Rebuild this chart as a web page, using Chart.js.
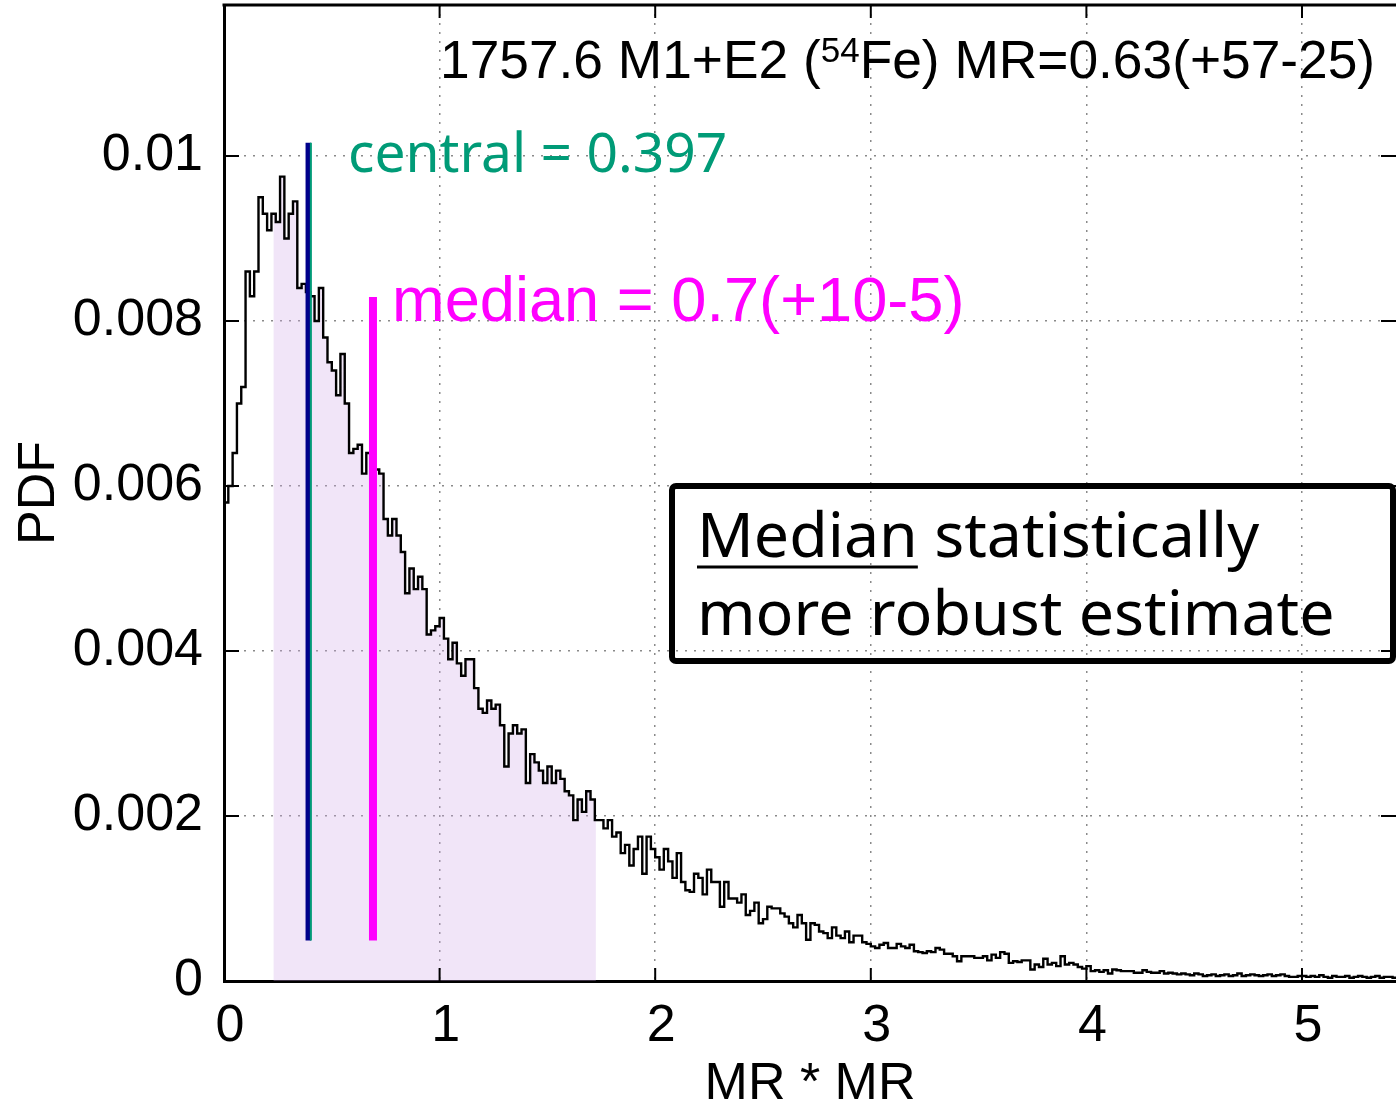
<!DOCTYPE html>
<html>
<head>
<meta charset="utf-8">
<script src="https://cdn.jsdelivr.net/npm/chart.js@4.4.0/dist/chart.umd.min.js"></script>
<style>
  html, body { margin: 0; padding: 0; background: #fff; }
  #wrap { width: 1396px; height: 1103px; }
</style>
</head>
<body>
<div id="wrap"><canvas id="myChart" width="1396" height="1103"></canvas></div>
<script>
// histogram of MR*MR, bin width 0.02, PDF values in units of 1e-3
const binWidth = 0.02;
const pdfMilli = [
  5.8, 6.0, 6.4, 7.0, 7.2, 8.6, 8.3, 8.6, 9.5, 9.3,
  9.1, 9.3, 9.2, 9.75, 9.0, 9.3, 9.45, 8.4, 8.45, 8.35,
  8.3, 8.0, 8.4, 7.8, 7.5, 7.4, 7.1, 7.6, 7.0, 6.4,
  6.45, 6.5, 6.15, 6.4, 6.3, 6.2, 6.15, 5.6, 5.4, 5.6,
  5.4, 5.2, 4.7, 5.0, 4.75, 4.9, 4.75, 4.2, 4.25, 4.3,
  4.4, 4.15, 3.9, 4.1, 3.85, 3.7, 3.9, 3.9, 3.55, 3.3,
  3.25, 3.4, 3.3, 3.35, 3.1, 2.6, 3.0, 3.1, 3.0, 3.05,
  2.4, 2.75, 2.65, 2.55, 2.4, 2.6, 2.4, 2.55, 2.45, 2.3,
  2.25, 1.95, 2.2, 2.05, 2.3, 2.2, 1.95, 1.95, 1.85, 1.95,
  1.75, 1.8, 1.55, 1.65, 1.4, 1.6, 1.75, 1.3, 1.75, 1.6,
  1.5, 1.35, 1.6, 1.45, 1.25, 1.55, 1.2, 1.1, 1.08, 1.3,
  1.25, 1.05, 1.35, 1.2, 1.2, 0.9, 1.2, 1.0, 1.0, 0.95,
  1.05, 0.8, 0.85, 0.95, 0.7, 0.75, 0.9, 0.88, 0.88, 0.82,
  0.78, 0.7, 0.65, 0.8, 0.7, 0.5, 0.7, 0.68, 0.6, 0.58,
  0.52, 0.65, 0.55, 0.52, 0.6, 0.47, 0.55, 0.55, 0.47, 0.45,
  0.42, 0.4, 0.44, 0.46, 0.4, 0.4, 0.45, 0.42, 0.4, 0.44,
  0.36, 0.35, 0.34, 0.36, 0.35, 0.4, 0.38, 0.33, 0.33, 0.3,
  0.24, 0.3, 0.3, 0.3, 0.28, 0.28, 0.3, 0.25, 0.32, 0.28,
  0.35, 0.33, 0.22, 0.24, 0.23, 0.25, 0.25, 0.14, 0.2, 0.17,
  0.27, 0.2, 0.22, 0.18, 0.3, 0.2, 0.22, 0.2, 0.17, 0.15,
  0.18, 0.12, 0.13, 0.11, 0.13, 0.09, 0.14, 0.13, 0.12, 0.12,
  0.12, 0.1, 0.1, 0.13, 0.11, 0.1, 0.1, 0.12, 0.09, 0.1,
  0.09, 0.08, 0.09, 0.08, 0.07, 0.09, 0.08, 0.06, 0.07, 0.08,
  0.06, 0.07, 0.08, 0.06, 0.07, 0.09, 0.06, 0.07, 0.08, 0.07,
  0.06, 0.07, 0.08, 0.06, 0.07, 0.08, 0.06, 0.05, 0.05, 0.06,
  0.06, 0.05, 0.06, 0.05, 0.07, 0.05, 0.04, 0.06, 0.05, 0.05,
  0.06, 0.04, 0.05, 0.06, 0.05, 0.04, 0.05, 0.06, 0.04, 0.05,
  0.05, 0.04
];

const xTicks = [0, 1, 2, 3, 4, 5];
const yTicks = [0, 0.002, 0.004, 0.006, 0.008, 0.01];
const xMax = 5.436;
const yMax = 0.01183;

// shaded interval under the curve
const shadeRange = [0.229, 1.725];

// vertical markers: mode (blue), central (green), median (magenta)
const markerX = [0.391, 0.403, 0.691];
const markerTop = [0.01016, 0.01016, 0.00829];
const markerBottom = 0.00049;
const markerColors = ['#00008b', '#009b77', '#ff00ff'];
const markerWidths = [5.5, 2, 8];

const titleText = ['1757.6 M1+E2 (', '54', 'Fe) MR=0.63(+57-25)'];
const centralText = 'central = 0.397';
const medianText = 'median = 0.7(+10-5)';
const noteLines = ['Median', ' statistically', 'more robust estimate'];

const histPoints = pdfMilli.map((v, i) => ({ x: +(i * binWidth).toFixed(3), y: v / 1000 }));
histPoints.push({ x: +(pdfMilli.length * binWidth).toFixed(3), y: pdfMilli[pdfMilli.length - 1] / 1000 });

const i0 = Math.floor(shadeRange[0] / binWidth);
const i1 = Math.floor(shadeRange[1] / binWidth);
const shadePoints = [{ x: shadeRange[0], y: pdfMilli[i0] / 1000 }];
for (let i = i0 + 1; i <= i1; i++) shadePoints.push({ x: +(i * binWidth).toFixed(3), y: pdfMilli[i] / 1000 });
shadePoints.push({ x: shadeRange[1], y: pdfMilli[i1] / 1000 });

const markerSets = markerX.map((mx, k) => ({
    data: [{ x: mx, y: markerBottom }, { x: mx, y: markerTop[k] }],
    borderColor: markerColors[k],
    borderWidth: markerWidths[k],
    borderCapStyle: 'butt',
    pointRadius: 0,
    order: k === 0 ? 1 : 0
}));

const SANS = "'Liberation Sans', Arial, sans-serif";
const COMIC = "'Comic Sans MS', 'Noto Sans', sans-serif";

function fitFont(c, text, family, targetWidth) {
    c.font = '100px ' + family;
    return 100 * targetWidth / c.measureText(text).width;
}

const decorations = {
    id: 'decorations',
    afterDraw(chart) {
        const { ctx: c, chartArea: a, scales: { x, y } } = chart;
        c.save();
        c.strokeStyle = '#000';
        c.lineCap = 'butt';
        const seg = (x1, y1, x2, y2) => { c.beginPath(); c.moveTo(x1, y1); c.lineTo(x2, y2); c.stroke(); };

        // top frame
        c.lineWidth = 3;
        seg(a.left - 1.5, a.top, a.right, a.top);

        // inner ticks
        c.lineWidth = 2;
        xTicks.forEach(v => {
            const px = x.getPixelForValue(v);
            seg(px, a.bottom, px, a.bottom - 13);
            seg(px, a.top, px, a.top + 13);
        });
        yTicks.forEach(v => {
            const py = y.getPixelForValue(v);
            seg(a.left, py, a.left + 15, py);
            seg(a.right - 15, py, a.right, py);
        });

        // title with superscript
        c.fillStyle = '#000';
        c.textBaseline = 'alphabetic';
        c.textAlign = 'left';
        let tx = 440;
        c.font = '53.3px ' + SANS;
        c.fillText(titleText[0], tx, 78);
        tx += c.measureText(titleText[0]).width;
        c.font = '35px ' + SANS;
        c.fillText(titleText[1], tx, 62);
        tx += c.measureText(titleText[1]).width;
        c.font = '53.3px ' + SANS;
        c.fillText(titleText[2], tx, 78);

        // central label
        c.fillStyle = '#009b77';
        c.font = fitFont(c, centralText, COMIC, 379).toFixed(1) + 'px ' + COMIC;
        c.fillText(centralText, 348, 172);

        // median label
        c.fillStyle = '#ff00ff';
        c.font = fitFont(c, medianText, SANS, 573).toFixed(1) + 'px ' + SANS;
        c.fillText(medianText, 392, 321);

        // note box
        c.lineWidth = 6;
        c.lineJoin = 'round';
        c.beginPath();
        c.roundRect(672, 486, 721, 175, 4);
        c.stroke();
        c.fillStyle = '#000';
        const noteSize = fitFont(c, noteLines[2], COMIC, 638);
        c.font = noteSize.toFixed(1) + 'px ' + COMIC;
        c.fillText(noteLines[0], 697, 557);
        const mw = c.measureText(noteLines[0]).width;
        c.fillText(noteLines[1], 697 + mw, 557);
        c.fillText(noteLines[2], 697, 635);
        c.lineWidth = 3;
        seg(697, 567, 697 + mw, 567);
        c.restore();
    }
};

const ctx = document.getElementById('myChart').getContext('2d');
const myChart = new Chart(ctx, {
    type: 'line',
    data: {
        datasets: [
            ...markerSets,
            {
                data: histPoints,
                borderColor: '#000',
                borderWidth: 2.4,
                stepped: 'before',
                pointRadius: 0,
                fill: false,
                order: 2
            },
            {
                data: shadePoints,
                borderWidth: 0,
                borderColor: 'rgba(0,0,0,0)',
                backgroundColor: 'rgba(208,168,232,0.3)',
                stepped: 'before',
                pointRadius: 0,
                fill: 'origin',
                order: 3
            }
        ]
    },
    options: {
        responsive: false,
        animation: false,
        devicePixelRatio: 1,
        layout: { padding: { top: 5, right: 0, left: 0, bottom: 0 } },
        plugins: { legend: { display: false }, tooltip: { enabled: false } },
        scales: {
            x: {
                type: 'linear',
                min: 0,
                max: xMax,
                afterFit: s => { s.height = 122; s.paddingLeft = 0; s.paddingRight = 0; },
                afterBuildTicks: s => { s.ticks = xTicks.map(v => ({ value: v })); },
                ticks: {
                    includeBounds: false,
                    color: '#000',
                    font: { family: SANS, size: 52 },
                    padding: 14,
                    labelOffset: 6,
                    maxRotation: 0,
                    callback: v => String(v)
                },
                grid: { color: '#8a8a8a', lineWidth: 1.5, drawTicks: false },
                border: { display: true, color: '#000', width: 3, dash: [2, 7] },
                title: {
                    display: true,
                    text: 'MR * MR',
                    color: '#000',
                    font: { family: SANS, size: 52 },
                    padding: { top: 0, bottom: -13 }
                }
            },
            y: {
                type: 'linear',
                min: 0,
                max: yMax,
                afterFit: s => { s.width = 224; s.paddingTop = 0; s.paddingBottom = 0; },
                afterBuildTicks: s => { s.ticks = yTicks.map(v => ({ value: v })); },
                ticks: {
                    includeBounds: false,
                    color: '#000',
                    font: { family: SANS, size: 52 },
                    padding: 21,
                    callback: v => v === 0 ? '0' : String(parseFloat(v.toFixed(4)))
                },
                grid: { color: '#8a8a8a', lineWidth: 1.5, drawTicks: false },
                border: { display: true, color: '#000', width: 3, dash: [2, 7] },
                title: {
                    display: true,
                    text: 'PDF',
                    color: '#000',
                    font: { family: SANS, size: 52 },
                    padding: { top: 8, bottom: 0 }
                }
            }
        }
    },
    plugins: [decorations]
});
</script>
</body>
</html>
